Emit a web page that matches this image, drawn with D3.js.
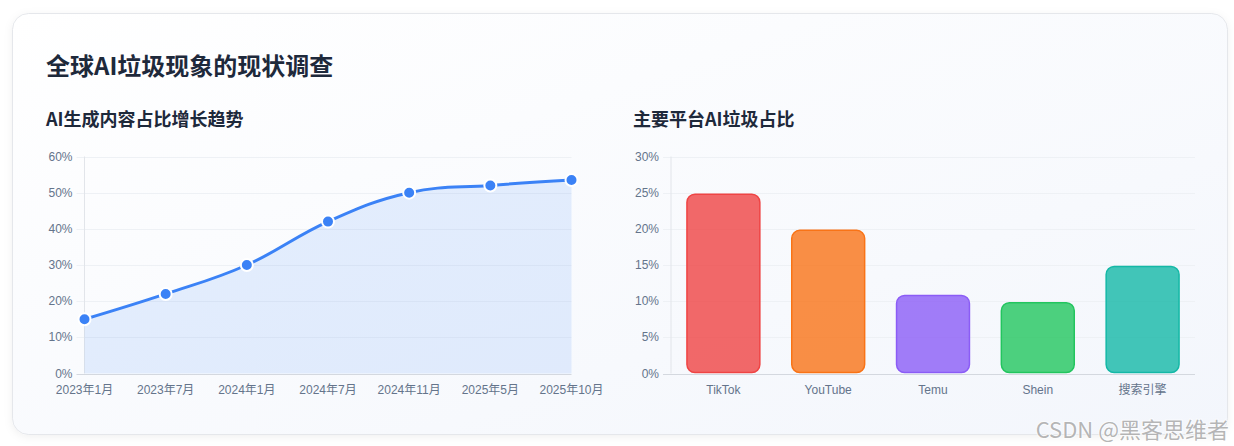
<!DOCTYPE html>
<html>
<head>
<meta charset="utf-8">
<script src="https://cdn.jsdelivr.net/npm/d3@7/dist/d3.min.js"></script>
<style>
  html, body { margin: 0; padding: 0; background: #ffffff; }
  svg { display: block; }
</style>
</head>
<body>
<div id="chart"></div>
<script>
// data
var trendMonths = ['2023年1月', '2023年7月', '2024年1月', '2024年7月', '2024年11月', '2025年5月', '2025年10月'];
var trendValues = [15, 22, 30, 42, 50, 52, 53.5];
var trendTicks = [0, 10, 20, 30, 40, 50, 60];

var platforms = ['TikTok', 'YouTube', 'Temu', 'Shein', '搜索引擎'];
var platformValues = [25, 20, 11, 10, 15];
var platformTicks = [0, 5, 10, 15, 20, 25, 30];
var platformColors = ['#ef4444', '#f97316', '#8b5cf6', '#22c55e', '#14b8a6'];

var W = 1234, H = 446;
var tickFont = '"Liberation Sans", Arial, "Noto Sans CJK SC", sans-serif';
var cjkFont = '"Noto Sans CJK SC", "Liberation Sans", sans-serif';

var svg = d3.select('#chart').append('svg')
    .attr('width', W)
    .attr('height', H);

var defs = svg.append('defs');
var grad = defs.append('linearGradient')
    .attr('id', 'cardBg')
    .attr('x1', '0%').attr('y1', '0%')
    .attr('x2', '100%').attr('y2', '100%');
grad.append('stop').attr('offset', '0%').attr('stop-color', '#ffffff');
grad.append('stop').attr('offset', '100%').attr('stop-color', '#f3f6fc');

var shadow = defs.append('filter').attr('id', 'shadow')
    .attr('x', '-5%').attr('y', '-5%').attr('width', '110%').attr('height', '110%');
shadow.append('feDropShadow')
    .attr('dx', 0).attr('dy', 2).attr('stdDeviation', 4)
    .attr('flood-color', '#000').attr('flood-opacity', 0.06);

// card
svg.append('rect')
    .attr('x', 12.5).attr('y', 13.5)
    .attr('width', 1215).attr('height', 421)
    .attr('rx', 16)
    .attr('fill', 'url(#cardBg)')
    .attr('stroke', '#e5e7eb')
    .attr('filter', 'url(#shadow)');

svg.append('text')
    .attr('x', 46).attr('y', 64)
    .attr('dominant-baseline', 'central')
    .style('font-family', cjkFont)
    .style('font-size', '24px')
    .style('font-weight', 'bold')
    .attr('fill', '#1e293b')
    .text('全球AI垃圾现象的现状调查');

function subTitle(x, txt) {
    svg.append('text')
        .attr('x', x).attr('y', 118)
        .attr('dominant-baseline', 'central')
        .style('font-family', cjkFont)
        .style('font-size', '18px')
        .style('font-weight', 'bold')
        .attr('fill', '#1e293b')
        .text(txt);
}
subTitle(46, 'AI生成内容占比增长趋势');
subTitle(633, '主要平台AI垃圾占比');

var TOP = 156.5, BOTTOM = 373.5;

function drawYAxis(g, y, ticks, left, right) {
    // grid lines, extended past the axis as tick marks
    g.selectAll('line.grid').data(ticks).enter().append('line')
        .attr('class', 'grid')
        .attr('x1', left - 8).attr('x2', right)
        .attr('y1', function(d) { return Math.round(y(d)) + 0.5; })
        .attr('y2', function(d) { return Math.round(y(d)) + 0.5; })
        .attr('stroke', function(d) { return d === 0 ? '#d4d8df' : '#eef1f5'; });
    g.selectAll('text.ytick').data(ticks).enter().append('text')
        .attr('class', 'ytick')
        .attr('x', left - 12)
        .attr('y', function(d) { return y(d); })
        .attr('text-anchor', 'end')
        .attr('dominant-baseline', 'central')
        .style('font-family', tickFont)
        .style('font-size', '12px')
        .attr('fill', '#64748b')
        .text(function(d) { return d + '%'; });
    g.append('line')
        .attr('x1', left).attr('x2', left)
        .attr('y1', TOP).attr('y2', BOTTOM)
        .attr('stroke', '#e2e5ea');
}

// ---- left: line chart
var lx = d3.scalePoint().domain(trendMonths).range([84.5, 571.5]);
var ly = d3.scaleLinear().domain([0, 60]).range([BOTTOM, TOP]);
var left = svg.append('g');
drawYAxis(left, ly, trendTicks, 84.5, 571.5);

var curve = d3.curveCardinal.tension(-0.2);
var area = d3.area()
    .x(function(d, i) { return lx(trendMonths[i]); })
    .y0(ly(0))
    .y1(function(d) { return ly(d); })
    .curve(curve);
var line = d3.line()
    .x(function(d, i) { return lx(trendMonths[i]); })
    .y(function(d) { return ly(d); })
    .curve(curve);

left.append('path')
    .datum(trendValues)
    .attr('d', area)
    .attr('fill', 'rgba(59,130,246,0.12)');
left.append('path')
    .datum(trendValues)
    .attr('d', line)
    .attr('fill', 'none')
    .attr('stroke', '#3b82f6')
    .attr('stroke-width', 3);
left.selectAll('circle').data(trendValues).enter().append('circle')
    .attr('cx', function(d, i) { return lx(trendMonths[i]); })
    .attr('cy', function(d) { return ly(d); })
    .attr('r', 6)
    .attr('fill', '#3b82f6')
    .attr('stroke', '#ffffff')
    .attr('stroke-width', 2);

left.selectAll('text.xtick').data(trendMonths).enter().append('text')
    .attr('class', 'xtick')
    .attr('x', function(d) { return lx(d); })
    .attr('y', 390)
    .attr('text-anchor', 'middle')
    .attr('dominant-baseline', 'central')
    .style('font-family', tickFont)
    .style('font-size', '12px')
    .attr('fill', '#64748b')
    .text(function(d) { return d; });

// ---- right: bar chart
var bx = d3.scaleBand().domain(platforms).range([671, 1195]);
var by = d3.scaleLinear().domain([0, 30]).range([BOTTOM, TOP]);
var right = svg.append('g');
drawYAxis(right, by, platformTicks, 671, 1195);

var barW = bx.bandwidth() * 0.71;
right.selectAll('rect.bar').data(platformValues).enter().append('rect')
    .attr('class', 'bar')
    .attr('x', function(d, i) { return bx(platforms[i]) + (bx.bandwidth() - barW) / 2 + 0.75; })
    .attr('y', function(d) { return by(d) + 1.5; })
    .attr('width', barW - 1.5)
    .attr('height', function(d) { return by(0) - by(d) - 2.5; })
    .attr('rx', 8)
    .attr('fill', function(d, i) { return d3.color(platformColors[i]).copy({opacity: 0.8}); })
    .attr('stroke', function(d, i) { return platformColors[i]; })
    .attr('stroke-width', 1.5);

right.selectAll('text.xtick').data(platforms).enter().append('text')
    .attr('class', 'xtick')
    .attr('x', function(d) { return bx(d) + bx.bandwidth() / 2; })
    .attr('y', 390)
    .attr('text-anchor', 'middle')
    .attr('dominant-baseline', 'central')
    .style('font-family', tickFont)
    .style('font-size', '12px')
    .attr('fill', '#64748b')
    .text(function(d) { return d; });

// watermark
svg.append('text')
    .attr('x', 1229).attr('y', 428)
    .attr('text-anchor', 'end')
    .attr('dominant-baseline', 'central')
    .style('font-family', cjkFont)
    .style('font-size', '22px')
    .attr('fill', 'rgba(150,150,150,0.7)')
    .attr('stroke', 'rgba(255,255,255,0.6)')
    .attr('stroke-width', 2)
    .attr('paint-order', 'stroke')
    .text('CSDN @黑客思维者');
</script>
</body>
</html>
